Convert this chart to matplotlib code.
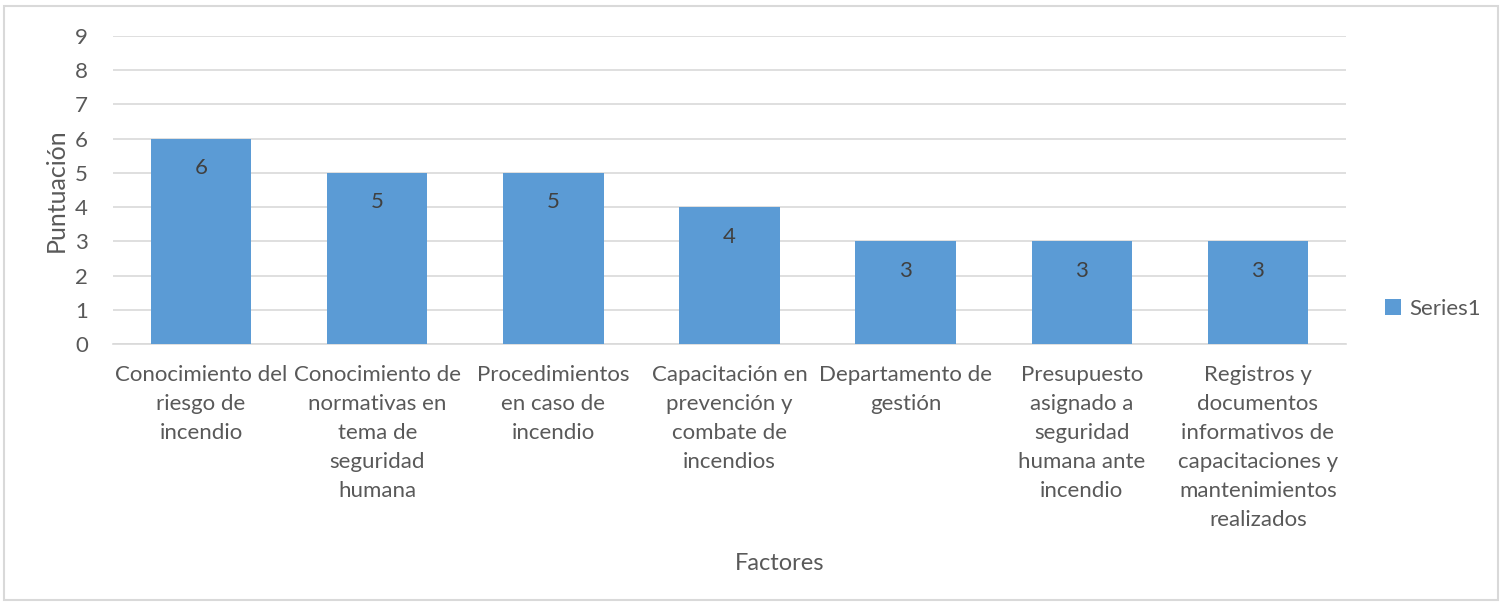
import matplotlib.pyplot as plt
from matplotlib.patches import Rectangle
import numpy as np

plt.rcParams['font.family'] = ['Lato', 'DejaVu Sans']

factores = ['Conocimiento del\nriesgo de\nincendio',
            'Conocimiento de\nnormativas en\ntema de\nseguridad\nhumana',
            'Procedimientos\nen caso de\nincendio',
            'Capacitación en\nprevención y\ncombate de\nincendios',
            'Departamento de\ngestión',
            'Presupuesto\nasignado a\nseguridad\nhumana ante\nincendio',
            'Registros y\ndocumentos\ninformativos de\ncapacitaciones y\nmantenimientos\nrealizados']
puntuacion = [6, 5, 5, 4, 3, 3, 3]

gray = '#595959'
bar_color = '#5B9BD5'

fig = plt.figure(figsize=(15.02, 6.05), dpi=100)
ax = fig.add_axes([113 / 1502, 1 - 344 / 605, 1233 / 1502, 308 / 605])

x = np.arange(len(factores))
bars = ax.bar(x, puntuacion, width=0.57, color=bar_color, label='Series1', zorder=3)

# value labels inside the top of each bar
for xi, v in zip(x, puntuacion):
    ax.annotate(str(v), (xi, v), xytext=(0, -14), textcoords='offset points',
                ha='center', va='top', fontsize=16, color='#404040')

ax.set_xlim(-0.5, len(factores) - 0.5)
ax.set_ylim(0, 9)
ax.set_yticks(range(0, 10))
ax.set_xticks(x)
ax.set_xticklabels(factores, fontsize=16, color=gray, linespacing=1.57)
ax.tick_params(axis='y', labelsize=16, labelcolor=gray, length=0, pad=18)
ax.tick_params(axis='x', length=0, pad=15)
ax.grid(axis='y', color='#d9d9d9', linewidth=1.2, zorder=0)
for s in ['top', 'right', 'left']:
    ax.spines[s].set_visible(False)
ax.spines['bottom'].set_color('#d9d9d9')
ax.spines['bottom'].set_linewidth(1.2)

ax.set_ylabel('Puntuación', fontsize=18, color=gray, labelpad=5)
fig.text(780 / 1502, 1 - 563 / 605, 'Factores', fontsize=17, color=gray,
         ha='center', va='center')

leg = fig.legend(handles=[bars], labels=['Series1'], loc='center left',
                 bbox_to_anchor=(1365 / 1502, 1 - 309 / 605), frameon=False,
                 fontsize=16, handlelength=0.7, handleheight=0.7, handletextpad=0.4)
for t in leg.get_texts():
    t.set_color(gray)

fig.patches.append(Rectangle((4 / 1502, 5 / 605), 1494 / 1502, 594 / 605,
                             transform=fig.transFigure, fill=False,
                             edgecolor='#d9d9d9', linewidth=1.5))

fig.savefig('out.png', dpi=100)
